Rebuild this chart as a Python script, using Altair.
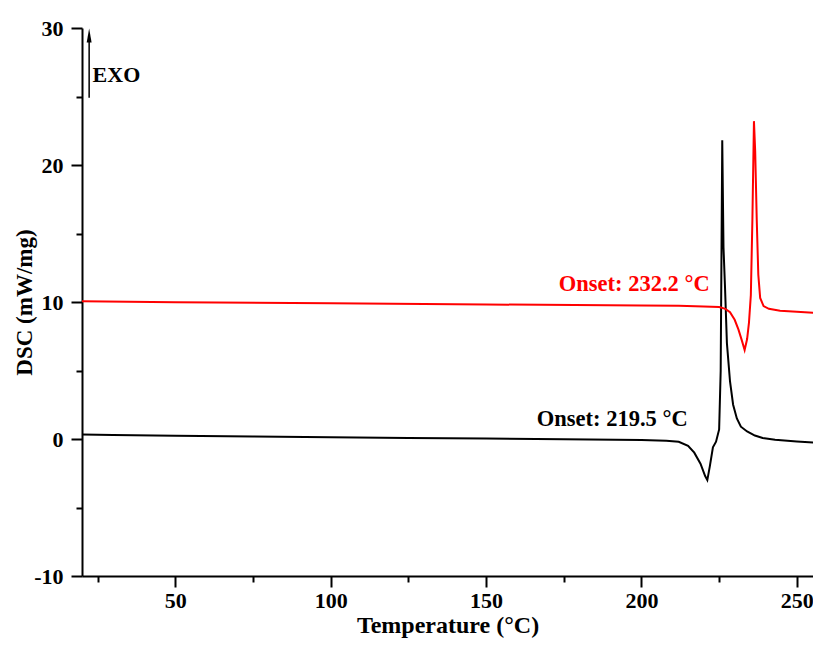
import altair as alt
import pandas as pd

# Black curve (onset 219.5 °C)
t_black = [20, 30, 50, 75, 100, 125, 150, 175, 200, 208, 212, 215, 217, 219, 220.5, 221.2,
           222, 223, 224, 225, 225.5, 226.0, 226.4, 226.9, 227.5, 228.5, 229.5, 230.7, 232,
           234, 236.5, 239, 243, 250, 258]
dsc_black = [0.33, 0.3, 0.24, 0.18, 0.13, 0.08, 0.03, -0.02, -0.08, -0.12, -0.2, -0.5, -1.0, -1.8,
             -2.7, -3.0, -2.0, -0.6, -0.2, 0.7, 5.0, 21.8, 14.0, 11.0, 7.0, 4.2, 2.5, 1.5, 0.9,
             0.55, 0.25, 0.07, -0.06, -0.18, -0.3]

# Red curve (onset 232.2 °C)
t_red = [20, 50, 100, 150, 200, 212, 220, 225, 227, 228.5, 230, 231.2, 232.3, 233.2, 234,
         234.6, 235.2, 235.7, 236.2, 236.6, 237.1, 237.6, 238.2, 239.3, 241, 244.6, 250, 258]
dsc_red = [10.05, 9.98, 9.9, 9.82, 9.74, 9.72, 9.68, 9.63, 9.5, 9.25, 8.7, 8.0, 7.2, 6.5, 7.3,
           8.5, 10.5, 16.0, 23.2, 21.0, 16.0, 12.0, 10.3, 9.7, 9.5, 9.37, 9.28, 9.18]

x_ticks = [25, 50, 75, 100, 125, 150, 175, 200, 225, 250]
y_ticks = [-10, -5, 0, 5, 10, 15, 20, 25, 30]

FONT = "Liberation Serif"

df_black = pd.DataFrame({"T": t_black, "DSC": dsc_black})
df_red = pd.DataFrame({"T": t_red, "DSC": dsc_red})

xscale = alt.Scale(domain=[20, 255.2], nice=False, zero=False)
yscale = alt.Scale(domain=[-10, 30], nice=False, zero=False)

xaxis = alt.Axis(
    title="Temperature (°C)", values=x_ticks,
    labelExpr="datum.value % 50 == 0 ? '' + datum.value : ''",
    grid=False, domainColor="black", domainWidth=2, tickColor="black", tickWidth=2,
    tickSize={"condition": {"test": "datum.value % 50 == 0", "value": 11}, "value": 6},
    labelFont=FONT, labelFontWeight="bold", labelFontSize=22, labelColor="black",
    labelPadding=3, titleFont=FONT, titleFontWeight="bold", titleFontSize=24,
    titleColor="black", titleBaseline="alphabetic", titleY=56, labelFlush=False,
)
yaxis = alt.Axis(
    title="DSC (mW/mg)", values=y_ticks,
    labelExpr="datum.value % 10 == 0 ? '' + datum.value : ''",
    grid=False, domainColor="black", domainWidth=2, tickColor="black", tickWidth=2,
    tickSize={"condition": {"test": "datum.value % 10 == 0", "value": 11}, "value": 6},
    labelFont=FONT, labelFontWeight="bold", labelFontSize=22, labelColor="black",
    labelPadding=8, titleFont=FONT, titleFontWeight="bold", titleFontSize=23,
    titleColor="black", titleBaseline="alphabetic", titleX=-51, labelFlush=False,
)

black_line = alt.Chart(df_black).mark_line(color="black", strokeWidth=2, clip=True).encode(
    x=alt.X("T:Q", scale=xscale, axis=xaxis),
    y=alt.Y("DSC:Q", scale=yscale, axis=yaxis),
)
red_line = alt.Chart(df_red).mark_line(color="#ff0000", strokeWidth=2, clip=True).encode(
    x=alt.X("T:Q", scale=xscale),
    y=alt.Y("DSC:Q", scale=yscale),
)

labels = pd.DataFrame({
    "T": [197.7, 190.6],
    "DSC": [11.3, 1.46],
    "text": ["Onset: 232.2 °C", "Onset: 219.5 °C"],
    "color": ["#ff0000", "black"],
})
label_marks = alt.Chart(labels).mark_text(
    font=FONT, fontWeight="bold", fontSize=22.5, align="center", baseline="middle"
).encode(
    x=alt.X("T:Q", scale=xscale), y=alt.Y("DSC:Q", scale=yscale),
    text="text:N", color=alt.Color("color:N", scale=None),
)

exo = alt.Chart(pd.DataFrame({"T": [23.4], "DSC": [26.6], "text": ["EXO"]})).mark_text(
    font=FONT, fontWeight="bold", fontSize=22, align="left", baseline="middle", color="black"
).encode(x=alt.X("T:Q", scale=xscale), y=alt.Y("DSC:Q", scale=yscale), text="text:N")

arrow_shaft = alt.Chart(pd.DataFrame({"T": [22.3], "y1": [24.9], "y2": [29.2]})).mark_rule(
    color="black", strokeWidth=1.5
).encode(x=alt.X("T:Q", scale=xscale), y=alt.Y("y1:Q", scale=yscale), y2="y2:Q")

arrow_head = alt.Chart(pd.DataFrame({"T": [22.3], "DSC": [29.45]})).mark_point(
    shape="M0,-1L-0.35,1L0.35,1Z", filled=True, color="black", opacity=1, size=196
).encode(x=alt.X("T:Q", scale=xscale), y=alt.Y("DSC:Q", scale=yscale))

chart = alt.layer(black_line, red_line, label_marks, exo, arrow_shaft, arrow_head).properties(
    width=731, height=548,
    autosize=alt.AutoSizeParams(type="none"),
    padding={"left": 74, "top": 20, "right": 0, "bottom": 62},
    background="white",
).configure_view(stroke=None)

chart.save("out.html", embed_options={"renderer": "svg", "actions": False})
